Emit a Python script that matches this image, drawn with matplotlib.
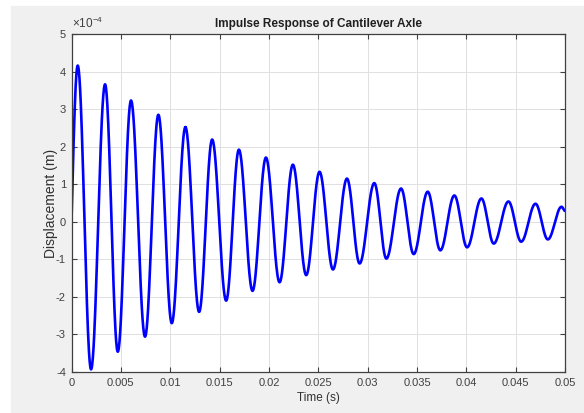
import numpy as np
import matplotlib
matplotlib.use("Agg")
import matplotlib.pyplot as plt
from matplotlib.patches import Rectangle

plt.rcParams['font.family'] = ['Liberation Sans', 'DejaVu Sans']
plt.rcParams['axes.unicode_minus'] = False
plt.rcParams['mathtext.fontset'] = 'custom'
plt.rcParams['mathtext.rm'] = 'Liberation Sans'

# extrema (time in s, displacement in 1e-4 m)
peak_t = [0.00063, 0.00340, 0.00603, 0.00880, 0.01154, 0.01425, 0.01696,
          0.01970, 0.02243, 0.02513, 0.02791, 0.03068, 0.03339, 0.03609,
          0.03879, 0.04153, 0.04427, 0.04701, 0.04965]
peak_v = [4.16, 3.66, 3.23, 2.85, 2.52, 2.19, 1.92, 1.71, 1.52, 1.33,
          1.15, 1.03, 0.885, 0.80, 0.70, 0.62, 0.54, 0.48, 0.40]
trough_t = [0.00198, 0.00469, 0.00745, 0.01016, 0.01293, 0.01567, 0.01834,
            0.02108, 0.02378, 0.02649, 0.02919, 0.03190, 0.03467, 0.03737,
            0.04008, 0.04278, 0.04556, 0.04826]
trough_v = [-3.93, -3.46, -3.06, -2.70, -2.40, -2.10, -1.84, -1.61, -1.42,
            -1.27, -1.11, -0.98, -0.86, -0.76, -0.68, -0.58, -0.53, -0.47]
start_t, start_v = 0.0, 0.0
end_t, end_v = 0.05, 0.29
scale = 1e-4

xticks = [0, 0.005, 0.01, 0.015, 0.02, 0.025, 0.03, 0.035, 0.04, 0.045, 0.05]
xticklabels = ['0', '0.005', '0.01', '0.015', '0.02', '0.025', '0.03',
               '0.035', '0.04', '0.045', '0.05']
yticks = [-4, -3, -2, -1, 0, 1, 2, 3, 4, 5]
yticklabels = ['-4', '-3', '-2', '-1', '0', '1', '2', '3', '4', '5']

# join extrema in order, smooth half-cosine shape between them
ext = sorted(zip(peak_t + trough_t, peak_v + trough_v))
ts = [start_t] + [e[0] for e in ext] + [end_t]
vs = [start_v] + [e[1] for e in ext] + [end_v]
tt, yy = [], []
for i in range(len(ts) - 1):
    s = np.linspace(0, 1, 40)
    if i == 0:
        w = np.sin(np.pi / 2 * s)
    else:
        w = 0.5 * (1 - np.cos(np.pi * s))
    tt.extend(ts[i] + (ts[i + 1] - ts[i]) * s)
    yy.extend(vs[i] + (vs[i + 1] - vs[i]) * w)
tt = np.array(tt)
yy = np.array(yy) * scale

fig = plt.figure(figsize=(5.84, 4.13), dpi=100, facecolor='white')
fig.patches.append(Rectangle((11 / 584, 0), 1, 1 - 6 / 413,
                             transform=fig.transFigure, color='#f0f0f0',
                             zorder=-10))

ax = fig.add_axes([71.5 / 584, 1 - 372 / 413, (565 - 71.5) / 584, (372 - 34) / 413])
ax.set_facecolor('white')
ax.plot(tt, yy, color=(0, 0, 1), lw=1.9)

ax.set_xlim(0, 0.05)
ax.set_ylim(-4 * scale, 5 * scale)
ax.set_xticks(xticks)
ax.set_xticklabels(xticklabels)
ax.set_yticks([v * scale for v in yticks])
ax.set_yticklabels(yticklabels)
# exponent label like MATLAB's
ax.text(0.002, 1.008, r'$\times\mathregular{10^{-4}}$', transform=ax.transAxes,
        fontsize=8.5, color='#404040', ha='left', va='bottom')

ax.grid(True, color='#e0e0e0', lw=0.7)
ax.set_axisbelow(True)
ax.tick_params(direction='in', top=True, right=True, length=3.5, width=0.8,
               colors='#404040', labelsize=8, pad=4)
for sp in ax.spines.values():
    sp.set_color('#404040')
    sp.set_linewidth(0.9)

ax.set_title('Impulse Response of Cantilever Axle', fontsize=8.5,
             fontweight='bold', color='#202020', pad=5)
ax.set_xlabel('Time (s)', fontsize=8.5, color='#303030', labelpad=3)
ax.set_ylabel('Displacement (m)', fontsize=10, color='#303030')
ax.yaxis.set_label_coords(-0.028, 0.5)

fig.savefig('out.png', dpi=100, facecolor=fig.get_facecolor())
